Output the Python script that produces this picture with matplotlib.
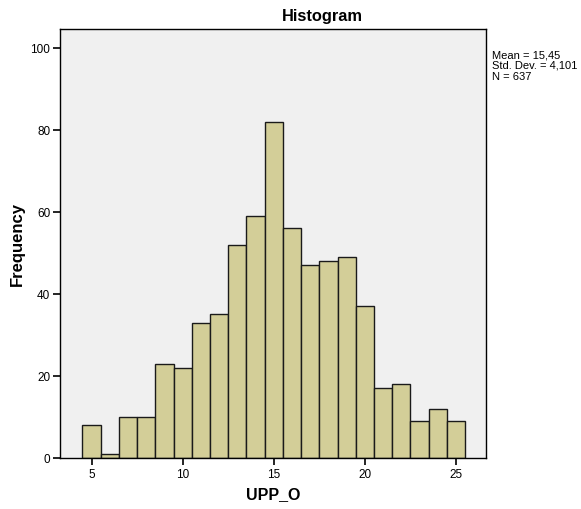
import matplotlib
matplotlib.use("Agg")
import matplotlib.pyplot as plt

plt.rcParams['font.family'] = ['Liberation Sans', 'DejaVu Sans']

bin_centers = [5, 6, 7, 8, 9, 10, 11, 12, 13, 14, 15, 16, 17, 18, 19, 20, 21, 22, 23, 24, 25]
frequencies = [8, 1, 10, 10, 23, 22, 33, 35, 52, 59, 82, 56, 47, 48, 49, 37, 17, 18, 9, 12, 9]
x_ticks = [5, 10, 15, 20, 25]
y_ticks = [0, 20, 40, 60, 80, 100]
stats_lines = ["Mean = 15,45", "Std. Dev. = 4,101", "N = 637"]

fig = plt.figure(figsize=(5.81, 5.10), dpi=100)
fig.patch.set_facecolor('white')
ax = fig.add_axes([0.1033, 0.100, 0.7332, 0.8412])
ax.set_facecolor('#F0F0F0')

ax.bar(bin_centers, frequencies, width=1.0, color='#D3CE98',
       edgecolor='#1a1a1a', linewidth=1.0, zorder=2)

ax.set_xlim(3.27, 26.65)
ax.set_ylim(0, 104.6)
ax.set_xticks(x_ticks)
ax.set_yticks(y_ticks)
ax.tick_params(axis='both', labelsize=8.5, length=5, width=1.2, color='black', pad=2)
for s in ax.spines.values():
    s.set_color('black')
    s.set_linewidth(1.0)

ax.set_xlabel('UPP_O', fontsize=11.5, fontweight='bold')
ax.set_ylabel('Frequency', fontsize=12, fontweight='bold')
ax.xaxis.set_label_coords((273 - 60) / 426, -(487 - 459) / 429)
ax.yaxis.set_label_coords(-(60 - 25) / 426, (459 - 244) / 429)
fig.text(322/581, 1 - 17/510, 'Histogram', fontsize=11.8, fontweight='bold',
         ha='center', va='center')
fig.text(492/581, 1 - 50/510, "\n".join(stats_lines), fontsize=8,
         ha='left', va='top', linespacing=1.1)

fig.savefig('out.png', dpi=100)
